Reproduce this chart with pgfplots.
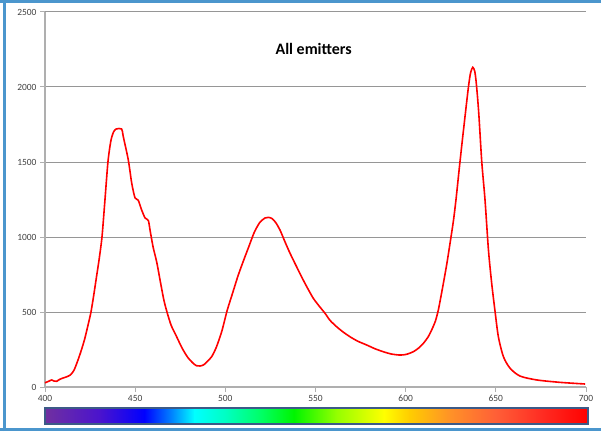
\documentclass[border=0pt]{standalone}
\usepackage{pgfplots}
\pgfplotsset{compat=1.18}
\usepackage{fontspec}
\setmainfont{Carlito}
\definecolor{frameblue}{RGB}{75,150,205}
\definecolor{barborder}{RGB}{60,90,135}
\definecolor{gridgray}{RGB}{150,150,150}
\definecolor{axgray}{RGB}{175,175,175}
\definecolor{ticktext}{RGB}{64,64,64}
\definecolor{s400}{RGB}{112,48,160}
\definecolor{s430}{RGB}{75,20,205}
\definecolor{s455}{RGB}{0,0,255}
\definecolor{s470}{RGB}{0,130,255}
\definecolor{s483}{RGB}{0,255,255}
\definecolor{s500}{RGB}{0,255,195}
\definecolor{s520}{RGB}{0,255,100}
\definecolor{s538}{RGB}{0,245,0}
\definecolor{s562}{RGB}{150,255,0}
\definecolor{s588}{RGB}{255,255,0}
\definecolor{s602}{RGB}{255,205,0}
\definecolor{s625}{RGB}{255,145,40}
\definecolor{s650}{RGB}{255,95,55}
\definecolor{s675}{RGB}{255,45,35}
\definecolor{s701}{RGB}{255,0,0}
\begin{document}
\begin{tikzpicture}[x=1bp,y=1bp]
\useasboundingbox (0,0) rectangle (601,431);
\draw[frameblue, line width=3bp] (0,429.5) -- (601,429.5);
\draw[frameblue, line width=3bp] (0,2) -- (601,2);
\draw[frameblue, line width=2.5bp] (4.5,0) -- (4.5,431);
\begin{axis}[
  at={(45bp,44bp)}, anchor=south west,
  scale only axis, width=541bp, height=375bp,
  xmin=400, xmax=700, ymin=0, ymax=2500,
  xtick={400,450,...,700}, ytick={0,500,...,2500},
  axis x line*=bottom, axis y line*=left,
  axis line style={axgray, line width=1.3bp, -},
  ymajorgrids, grid style={gridgray, line width=1bp},
  tick align=outside, major tick length=5bp,
  tick style={axgray, line width=1bp},
  ticklabel style={font=\fontsize{9.5}{11}\selectfont, text=ticktext},
  /pgf/number format/assume math mode=true,
  /pgf/number format/1000 sep={},
  clip=false,
]
% colour bar of the visible spectrum
\shade[left color=s400, right color=s430] (axis cs:400,-140) rectangle (axis cs:430,-246.7);
\shade[left color=s430, right color=s455] (axis cs:430,-140) rectangle (axis cs:455,-246.7);
\shade[left color=s455, right color=s470] (axis cs:455,-140) rectangle (axis cs:470,-246.7);
\shade[left color=s470, right color=s483] (axis cs:470,-140) rectangle (axis cs:483,-246.7);
\shade[left color=s483, right color=s500] (axis cs:483,-140) rectangle (axis cs:500,-246.7);
\shade[left color=s500, right color=s520] (axis cs:500,-140) rectangle (axis cs:520,-246.7);
\shade[left color=s520, right color=s538] (axis cs:520,-140) rectangle (axis cs:538,-246.7);
\shade[left color=s538, right color=s562] (axis cs:538,-140) rectangle (axis cs:562,-246.7);
\shade[left color=s562, right color=s588] (axis cs:562,-140) rectangle (axis cs:588,-246.7);
\shade[left color=s588, right color=s602] (axis cs:588,-140) rectangle (axis cs:602,-246.7);
\shade[left color=s602, right color=s625] (axis cs:602,-140) rectangle (axis cs:625,-246.7);
\shade[left color=s625, right color=s650] (axis cs:625,-140) rectangle (axis cs:650,-246.7);
\shade[left color=s650, right color=s675] (axis cs:650,-140) rectangle (axis cs:675,-246.7);
\shade[left color=s675, right color=s701] (axis cs:675,-140) rectangle (axis cs:701.2,-246.7);
\draw[barborder, line width=1.5bp] (axis cs:400,-140) rectangle (axis cs:701.2,-246.7);
\node[font=\fontsize{16}{19}\selectfont\bfseries] at (axis cs:549,2253) {All emitters};
\addplot[red, line width=1.6bp, smooth, tension=0.45] coordinates {
(400,28) (402,38) (403.7,47) (405,40) (406.5,38) (408,50) (410,60) (412,68) (414,80)
(416,110) (418,170) (420,240) (422,320) (424,420) (425.5,500) (427,610) (428.5,730)
(430,850) (431.6,1000) (433.2,1240) (434.9,1500) (436.5,1640) (438,1700)
(439.5,1720) (442.5,1720) (443.4,1670) (446.2,1513) (448.1,1358) (449.9,1262)
(451.7,1245) (453.6,1180) (455.5,1127) (457.3,1110) (458.4,1035) (460,930)
(462,830) (464,700) (466,575) (468,485) (470,410) (473,335) (476,260) (479,200)
(482,160) (484,142) (486,140) (488,148) (490,170) (492.4,202) (495,265) (498,370)
(501,510) (504,625) (507,740) (510,840) (513,935) (516,1030) (519,1095) (522,1127)
(524,1131) (526,1122) (528,1095) (530.3,1047) (533,970) (535.9,891) (540,790)
(543.2,713) (546,650) (548.8,591) (552,540) (555.3,491) (558,445) (561.7,402)
(565.5,365) (569.1,335) (573.5,305) (578.4,280) (583,255) (587.6,235) (592,220)
(596.9,213) (600.5,218) (604.2,235) (607,258) (609.8,291) (612.5,335) (614.4,380)
(616.5,440) (618.1,513) (619.5,600) (620.9,691) (622.8,820) (624.6,958) (626.5,1110)
(628,1260) (630.1,1500) (632.5,1760) (634.8,2000) (636,2095) (637.2,2131)
(638.3,2105) (639.2,2020) (640.5,1830) (642.2,1500) (644,1247) (645.9,913)
(647.7,691) (649.6,500) (651.4,335) (654.2,202) (657.9,125) (663.4,73)
(672.7,47) (685.6,31) (699.5,20)
};
\end{axis}
\end{tikzpicture}
\end{document}
